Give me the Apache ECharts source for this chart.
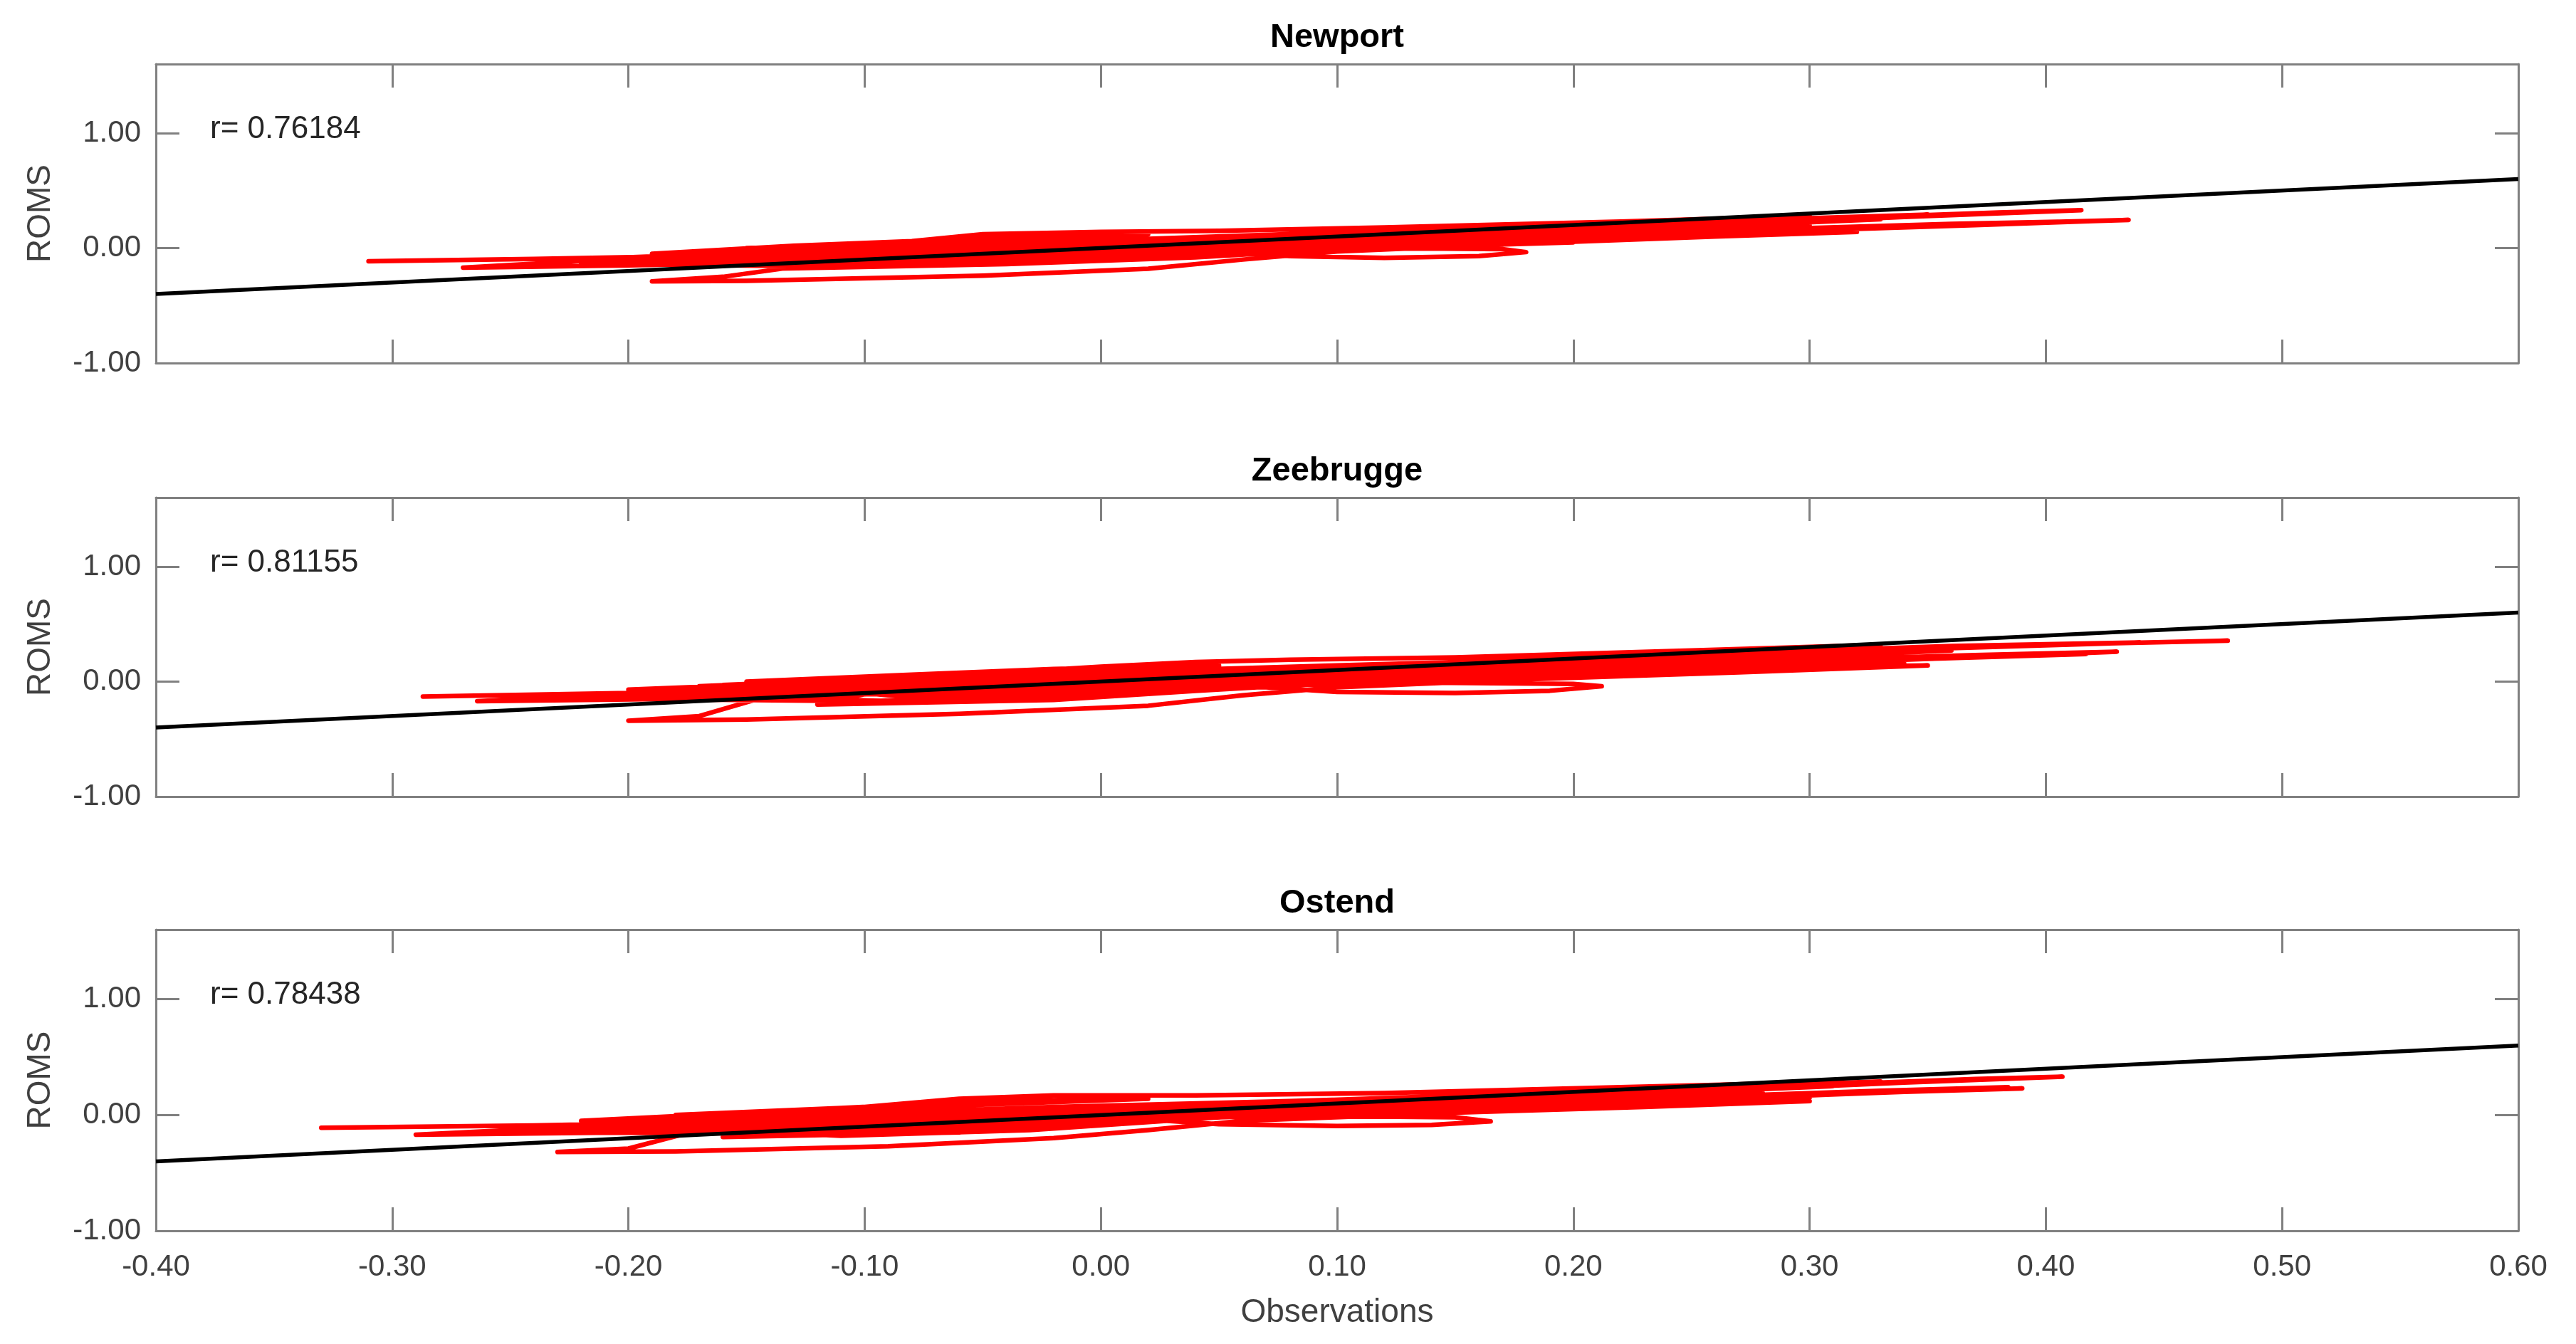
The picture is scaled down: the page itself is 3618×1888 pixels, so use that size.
<!DOCTYPE html>
<html><head><meta charset="utf-8">
<script src="https://cdn.jsdelivr.net/npm/echarts@6/dist/echarts.min.js"></script>
<style>html,body{margin:0;padding:0;background:#fff}#c{width:3618px;height:1888px}</style>
</head><body><div id="c"></div><script>
// ---------- data ----------
const stationNames = ['Newport', 'Zeebrugge', 'Ostend'];
const rValues = ['0.76184', '0.81155', '0.78438'];
const xRange = [-0.4, 0.6];      // Observations axis
const xStep = 0.1;
const yRange = [-1.0, 1.6];      // ROMS axis
const yStep = 1.0;
const oneToOneLine = [[-0.4, -0.4], [0.6, 0.6]];

const newportTrace = [
  [-0.31,-0.115],[-0.24,-0.095],[-0.15,-0.06],[-0.05,-0.01],[0.05,0.05],[0.15,0.11],[0.25,0.19],[0.34,0.27],[0.415,0.33],[0.38,0.31],[0.3,0.25],[0.2,0.17],[0.1,0.1],[0.0,0.03],[-0.1,-0.04],[-0.2,-0.09],
  [-0.27,-0.17],[-0.2,-0.15],[-0.1,-0.11],[0.0,-0.05],[0.1,0.02],[0.2,0.09],[0.3,0.16],[0.38,0.21],[0.435,0.245],[0.4,0.225],[0.3,0.17],[0.2,0.11],[0.1,0.05],[0.0,-0.01],[-0.1,-0.08],
  [-0.16,-0.25],[-0.19,-0.29],[-0.15,-0.285],[-0.05,-0.24],[0.02,-0.18],[0.06,-0.1],[0.1,-0.03],[0.18,0.04],[0.26,0.1],[0.32,0.14],[0.27,0.12],[0.18,0.06],[0.08,0.0],[0.0,-0.1],[-0.08,-0.15],
  [-0.17,-0.1],[-0.1,-0.05],[-0.02,0.02],[0.06,0.08],[0.16,0.15],[0.26,0.22],[0.35,0.29],[0.3,0.26],[0.2,0.19],[0.1,0.12],[0.02,0.06],[-0.06,0.0],[-0.14,-0.04],
  [-0.19,-0.05],[-0.13,0.02],[-0.08,0.06],[-0.05,0.12],[0.0,0.14],[0.05,0.15],[0.12,0.18],[0.22,0.23],[0.3,0.28],[0.22,0.21],[0.12,0.15],[0.02,0.08],[-0.06,0.03],[-0.12,-0.01],
  [-0.04,-0.06],[0.02,-0.05],[0.06,-0.04],[0.08,-0.07],[0.12,-0.085],[0.16,-0.07],[0.18,-0.035],[0.17,-0.01],[0.12,0.0],[0.07,0.01],[0.02,0.0],
  [-0.08,-0.1],[0.0,-0.06],[0.08,0.0],[0.18,0.07],[0.28,0.14],[0.37,0.2],[0.42,0.235],[0.36,0.21],[0.26,0.15],[0.16,0.08],[0.06,0.01],[-0.04,-0.06],[-0.12,-0.12],
  [-0.22,-0.13],[-0.14,-0.08],[-0.04,0.0],[0.06,0.06],[0.16,0.13],[0.26,0.21],[0.33,0.25],[0.26,0.19],[0.16,0.11],[0.06,0.04],[-0.04,-0.03],[-0.14,-0.1],[-0.2,-0.14],
  [-0.12,-0.16],[-0.02,-0.12],[0.06,-0.03],[0.16,0.03],[0.26,0.1],[0.32,0.15],[0.26,0.12],[0.16,0.06],[0.06,0.0],[-0.04,-0.09],[-0.1,-0.13],
  [-0.15,0.0],[-0.08,0.05],[-0.03,0.1],[0.02,0.12],[-0.04,0.08],[-0.1,0.02],[-0.16,-0.02],
  [-0.18,-0.12],[-0.08,-0.06],[0.02,0.0],[0.12,0.07],[0.22,0.14],[0.3,0.2],[0.22,0.15],[0.12,0.08],[0.02,0.01],[-0.08,-0.05],[-0.16,-0.1],
  [-0.2,-0.08],[-0.1,0.0],[0.0,0.07],[0.1,0.12],[0.2,0.18],[0.28,0.23],[0.2,0.16],[0.1,0.09],[0.0,0.02],[-0.1,-0.05],
  [-0.14,-0.18],[-0.04,-0.14],[0.04,-0.08],[0.1,-0.01],[0.2,0.05],[0.12,0.02],[0.04,-0.04],[-0.06,-0.13]
];

const zeebruggeTrace = [
  [-0.287,-0.13],[-0.2,-0.1],[-0.1,-0.05],[0.0,0.02],[0.1,0.09],[0.2,0.17],[0.3,0.25],[0.4,0.32],[0.477,0.355],[0.42,0.33],[0.32,0.27],[0.22,0.19],[0.12,0.11],[0.02,0.04],[-0.08,-0.03],[-0.18,-0.08],
  [-0.264,-0.17],[-0.18,-0.15],[-0.08,-0.1],[0.02,-0.04],[0.12,0.04],[0.22,0.11],[0.32,0.18],[0.417,0.24],[0.36,0.22],[0.26,0.16],[0.16,0.09],[0.06,0.02],[-0.04,-0.06],[-0.14,-0.12],
  [-0.17,-0.3],[-0.2,-0.34],[-0.15,-0.33],[-0.06,-0.28],[0.02,-0.21],[0.06,-0.12],[0.1,-0.05],[0.18,0.02],[0.27,0.08],[0.35,0.14],[0.29,0.12],[0.19,0.06],[0.09,0.0],[0.0,-0.13],[-0.08,-0.18],
  [-0.19,-0.09],[-0.1,-0.03],[-0.02,0.04],[0.06,0.1],[0.16,0.17],[0.26,0.24],[0.36,0.31],[0.44,0.34],[0.36,0.29],[0.26,0.21],[0.16,0.14],[0.06,0.07],[-0.04,0.0],[-0.14,-0.06],
  [-0.17,-0.04],[-0.1,0.02],[-0.04,0.08],[0.0,0.13],[0.04,0.17],[0.08,0.19],[0.15,0.21],[0.25,0.27],[0.33,0.32],[0.25,0.24],[0.15,0.17],[0.05,0.1],[-0.03,0.04],[-0.1,-0.01],
  [0.0,-0.06],[0.05,-0.05],[0.07,-0.05],[0.1,-0.09],[0.15,-0.1],[0.19,-0.08],[0.212,-0.04],[0.2,-0.02],[0.14,-0.01],[0.08,0.0],[0.03,0.0],
  [-0.06,-0.1],[0.02,-0.06],[0.1,0.0],[0.2,0.08],[0.3,0.16],[0.38,0.22],[0.43,0.26],[0.37,0.23],[0.27,0.17],[0.17,0.1],[0.07,0.03],[-0.03,-0.05],[-0.11,-0.12],
  [-0.22,-0.14],[-0.12,-0.08],[-0.02,0.0],[0.08,0.07],[0.18,0.14],[0.28,0.22],[0.36,0.27],[0.28,0.2],[0.18,0.12],[0.08,0.05],[-0.02,-0.03],[-0.12,-0.1],[-0.2,-0.15],
  [-0.1,-0.17],[0.0,-0.12],[0.06,-0.05],[0.12,0.0],[0.18,0.04],[0.28,0.11],[0.34,0.16],[0.28,0.13],[0.18,0.07],[0.08,0.01],[-0.02,-0.09],[-0.08,-0.14],
  [-0.15,0.0],[-0.08,0.06],[-0.02,0.11],[0.05,0.14],[-0.02,0.09],[-0.09,0.03],[-0.16,-0.03],
  [-0.18,-0.12],[-0.08,-0.06],[0.02,0.01],[0.12,0.08],[0.22,0.15],[0.32,0.22],[0.24,0.17],[0.14,0.1],[0.04,0.03],[-0.06,-0.04],[-0.15,-0.1],
  [-0.2,-0.07],[-0.1,0.01],[0.0,0.08],[0.1,0.14],[0.2,0.2],[0.3,0.26],[0.22,0.19],[0.12,0.12],[0.02,0.05],[-0.08,-0.02],
  [-0.12,-0.2],[-0.02,-0.16],[0.04,-0.08],[0.1,-0.01],[0.22,0.07],[0.14,0.03],[0.06,-0.03],[-0.04,-0.14]
];

const ostendTrace = [
  [-0.33,-0.11],[-0.24,-0.09],[-0.14,-0.05],[-0.04,0.01],[0.06,0.07],[0.16,0.14],[0.26,0.21],[0.34,0.28],[0.407,0.33],[0.37,0.31],[0.29,0.25],[0.19,0.17],[0.09,0.1],[-0.01,0.03],[-0.11,-0.04],[-0.21,-0.09],
  [-0.29,-0.17],[-0.2,-0.15],[-0.1,-0.1],[0.0,-0.04],[0.1,0.03],[0.2,0.1],[0.3,0.17],[0.384,0.24],[0.33,0.21],[0.23,0.14],[0.13,0.07],[0.03,0.0],[-0.07,-0.07],[-0.17,-0.13],
  [-0.2,-0.29],[-0.23,-0.32],[-0.18,-0.315],[-0.09,-0.27],[-0.02,-0.2],[0.02,-0.13],[0.06,-0.05],[0.15,0.02],[0.23,0.07],[0.3,0.12],[0.24,0.1],[0.15,0.04],[0.05,-0.02],[-0.03,-0.13],[-0.11,-0.18],
  [-0.2,-0.09],[-0.12,-0.04],[-0.04,0.03],[0.04,0.09],[0.14,0.16],[0.24,0.23],[0.33,0.29],[0.27,0.25],[0.17,0.18],[0.07,0.11],[-0.01,0.05],[-0.09,-0.01],[-0.17,-0.05],
  [-0.22,-0.05],[-0.15,0.02],[-0.1,0.07],[-0.06,0.14],[-0.02,0.17],[0.04,0.17],[0.12,0.19],[0.22,0.24],[0.3,0.28],[0.22,0.21],[0.12,0.14],[0.02,0.08],[-0.07,0.02],[-0.14,-0.02],
  [-0.06,-0.07],[0.0,-0.05],[0.02,-0.04],[0.05,-0.08],[0.1,-0.095],[0.14,-0.085],[0.165,-0.055],[0.15,-0.02],[0.1,-0.01],[0.05,0.0],[0.0,0.0],
  [-0.1,-0.1],[-0.02,-0.06],[0.06,0.0],[0.16,0.07],[0.26,0.14],[0.34,0.2],[0.39,0.23],[0.33,0.2],[0.23,0.14],[0.13,0.07],[0.03,0.0],[-0.07,-0.07],[-0.15,-0.12],
  [-0.25,-0.13],[-0.16,-0.08],[-0.06,0.0],[0.04,0.06],[0.14,0.13],[0.24,0.2],[0.31,0.25],[0.24,0.19],[0.14,0.11],[0.04,0.04],[-0.06,-0.03],[-0.16,-0.1],[-0.23,-0.15],
  [-0.14,-0.16],[-0.04,-0.12],[0.0,-0.07],[0.06,-0.01],[0.14,0.04],[0.24,0.1],[0.3,0.15],[0.24,0.12],[0.14,0.06],[0.04,0.0],[-0.06,-0.09],[-0.12,-0.13],
  [-0.18,0.0],[-0.11,0.06],[-0.05,0.12],[0.02,0.14],[-0.05,0.09],[-0.12,0.03],[-0.19,-0.03],
  [-0.2,-0.12],[-0.1,-0.06],[0.0,0.0],[0.1,0.07],[0.2,0.14],[0.28,0.2],[0.2,0.15],[0.1,0.08],[0.0,0.01],[-0.1,-0.05],[-0.18,-0.1],
  [-0.22,-0.08],[-0.12,0.0],[-0.02,0.07],[0.08,0.12],[0.18,0.18],[0.26,0.23],[0.18,0.16],[0.08,0.09],[-0.02,0.02],[-0.12,-0.05],
  [-0.16,-0.19],[-0.06,-0.15],[-0.02,-0.08],[0.06,0.0],[0.18,0.05],[0.1,0.02],[0.02,-0.03],[-0.08,-0.14]
];
const traces = [newportTrace, zeebruggeTrace, ostendTrace];

// ---------- layout ----------
const FONT = '"Liberation Sans", Arial, Helvetica, sans-serif';
const AX = '#808080', TXT = '#404040';
const gridLeft = 219, gridRight = 81;
const gridTops = [90, 699, 1306];
const gridHeights = [420, 420, 423];

function fmt(v) { if (Math.abs(v) < 1e-9) v = 0; return v.toFixed(2); }
function yfmt(v) { return Math.abs(v - Math.round(v)) < 1e-6 ? fmt(v) : ''; }

const grid = [], xAxis = [], yAxis = [], series = [], graphic = [];
const lineCommon = { show: true, onZero: false, lineStyle: { color: AX, width: 3 } };
const tickCommon = { show: true, inside: true, length: 33, lineStyle: { color: AX, width: 3 } };

for (let i = 0; i < 3; i++) {
  grid.push({ left: gridLeft, right: gridRight, top: gridTops[i], height: gridHeights[i], containLabel: false });
  const last = i === 2;
  xAxis.push({
    type: 'value', gridIndex: i, position: 'bottom', min: xRange[0], max: xRange[1], interval: xStep,
    axisLine: lineCommon, axisTick: tickCommon, splitLine: { show: false },
    axisLabel: { show: last, color: TXT, fontSize: 42, fontFamily: FONT, margin: 30, formatter: fmt },
    name: last ? 'Observations' : '', nameLocation: 'middle', nameGap: 92,
    nameTextStyle: { color: TXT, fontSize: 46, fontFamily: FONT }
  });
  xAxis.push({
    type: 'value', gridIndex: i, position: 'top', min: xRange[0], max: xRange[1], interval: xStep,
    axisLine: lineCommon, axisTick: tickCommon, splitLine: { show: false }, axisLabel: { show: false }
  });
  yAxis.push({
    type: 'value', gridIndex: i, position: 'left', min: yRange[0], max: yRange[1], interval: yStep,
    axisLine: lineCommon, axisTick: tickCommon, splitLine: { show: false },
    axisLabel: { show: true, color: TXT, fontSize: 42, fontFamily: FONT, margin: 21, formatter: yfmt },
    name: 'ROMS', nameLocation: 'middle', nameGap: 139, nameRotate: 90,
    nameTextStyle: { color: TXT, fontSize: 46, fontFamily: FONT }
  });
  yAxis.push({
    type: 'value', gridIndex: i, position: 'right', min: yRange[0], max: yRange[1], interval: yStep,
    axisLine: lineCommon, axisTick: tickCommon, splitLine: { show: false }, axisLabel: { show: false }
  });
  series.push({
    type: 'line', xAxisIndex: 2 * i, yAxisIndex: 2 * i, data: traces[i],
    symbol: 'none', smooth: false, z: 2,
    lineStyle: { color: '#ff0000', width: 6.5, cap: 'round', join: 'round' }
  });
  series.push({
    type: 'line', xAxisIndex: 2 * i, yAxisIndex: 2 * i, data: oneToOneLine,
    symbol: 'none', z: 3, lineStyle: { color: '#000000', width: 5.5 }
  });
  graphic.push({
    type: 'text', x: 1878, y: gridTops[i] - 37,
    style: { text: stationNames[i], font: 'bold 47px ' + FONT, fill: '#000',
      textAlign: 'center', textVerticalAlign: 'middle', align: 'center', verticalAlign: 'middle' }
  });
  graphic.push({
    type: 'text', x: 295, y: gridTops[i] + 92,
    style: { text: 'r= ' + rValues[i], font: '44px ' + FONT, fill: '#262626',
      textAlign: 'left', textVerticalAlign: 'middle', align: 'left', verticalAlign: 'middle' }
  });
}

const chart = echarts.init(document.getElementById('c'), null, { renderer: 'canvas' });
chart.setOption({ backgroundColor: '#fff', animation: false, grid, xAxis, yAxis, series, graphic });
</script></body></html>
